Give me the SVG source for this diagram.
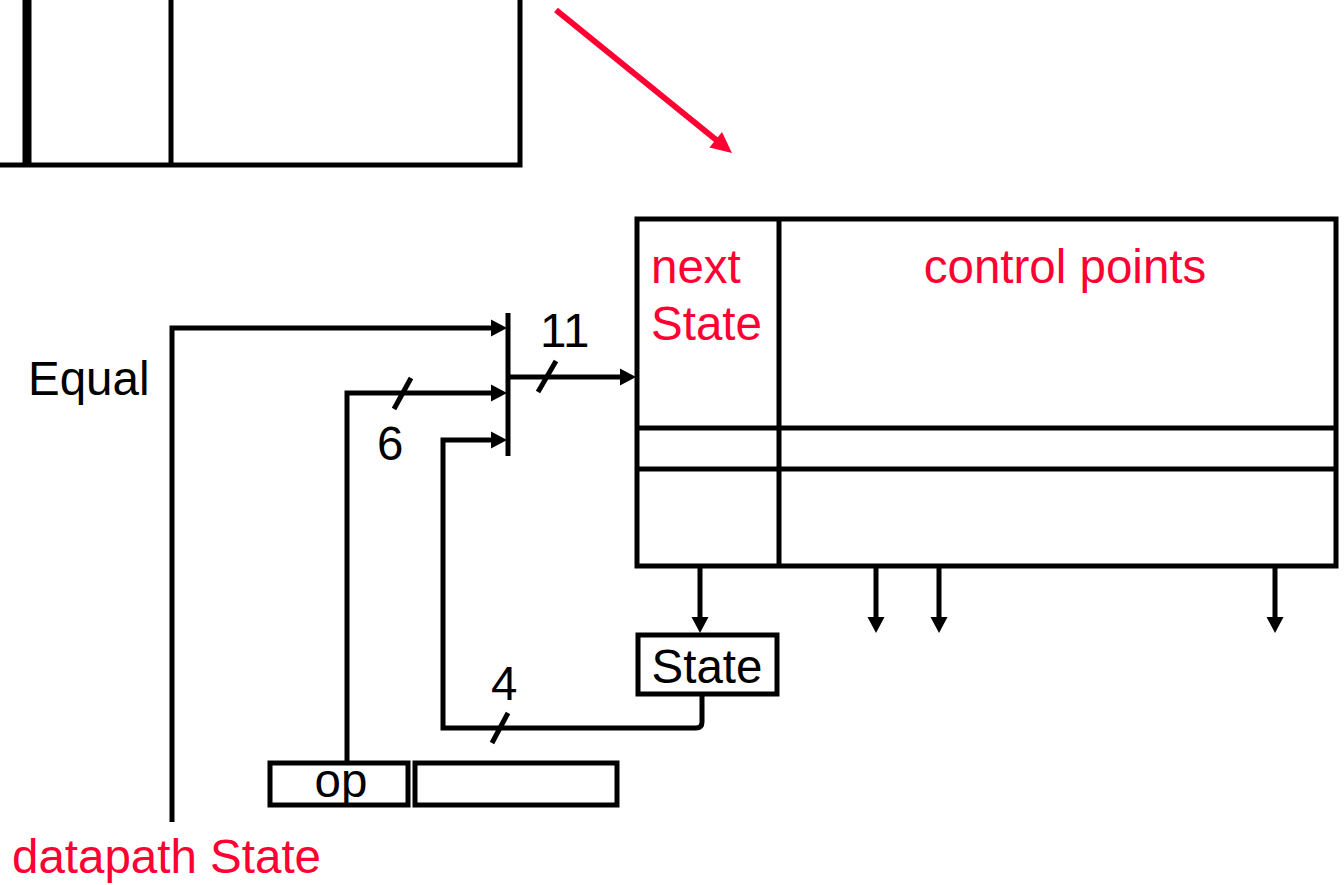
<svg xmlns="http://www.w3.org/2000/svg" xmlns:xlink="http://www.w3.org/1999/xlink" width="1344" height="885" viewBox="0 0 1344 885">
<style>
.ln{fill:none;stroke:#000;stroke-width:5;stroke-linejoin:miter}
.bx{fill:#fff;stroke:#000;stroke-width:5}
.t{font-family:"Liberation Sans",Arial,sans-serif;font-size:47.5px;fill:#000}
.r{fill:#ff0033}
.hd{fill:#000}
</style>
<defs>
<path id="ahd" d="M0,0 L-16,-8.5 L-16,8.5 Z"/>
<path id="ahdr" d="M0,0 L-21,-10 L-21,10 Z"/>
</defs>
<g id="top-register">
<path class="ln" d="M0,165 H520 V0"/>
<line x1="27" y1="0" x2="27" y2="167" stroke="#000" stroke-width="9"/>
<line class="ln" x1="171" y1="0" x2="171" y2="167"/>
</g>
<g id="red-arrow">
<line x1="556" y1="10" x2="720" y2="143" stroke="#ff0033" stroke-width="6"/>
<use xlink:href="#ahdr" href="#ahdr" fill="#ff0033" transform="translate(732,153) rotate(39.1)"/>
</g>
<g id="rom">
<rect class="bx" x="637" y="219" width="699" height="347"/>
<line class="ln" x1="779" y1="219" x2="779" y2="566"/>
<line class="ln" x1="637" y1="428" x2="1336" y2="428"/>
<line class="ln" x1="637" y1="469" x2="1336" y2="469"/>
<text class="t r" x="651" y="283">next</text>
<text class="t r" x="651" y="340">State</text>
<text class="t r" x="1065" y="283" text-anchor="middle">control points</text>
</g>
<g id="state-reg">
<rect class="bx" x="638" y="635" width="139" height="59"/>
<text class="t" x="707" y="683" text-anchor="middle">State</text>
</g>
<g id="op-field">
<rect class="bx" x="270" y="763" width="138" height="42"/>
<text class="t" x="341" y="797" text-anchor="middle">op</text>
</g>
<g id="other-field">
<rect class="bx" x="415" y="763" width="202" height="42"/>
</g>
<g id="bus">
<line class="ln" x1="508" y1="313" x2="508" y2="456"/>
</g>
<g id="labels">
<text class="t" x="28" y="395">Equal</text>
<text class="t r" x="12" y="873">datapath State</text>
<text class="t" x="540" y="347" font-size="45">11</text>
<text class="t" x="377" y="460" font-size="45">6</text>
<text class="t" x="491" y="700" font-size="45">4</text>
</g>
<g id="connectors">
<path class="ln" d="M172,822 V328 H496"/>
<path class="ln" d="M347,763 V393 H496"/>
<path class="ln" d="M702,694 V722 Q702,728 696,728 H443 V440 H496"/>
<line class="ln" x1="508" y1="377" x2="624" y2="377"/>
<line class="ln" x1="700" y1="566" x2="700" y2="620"/>
<line class="ln" x1="876" y1="566" x2="876" y2="620"/>
<line class="ln" x1="939" y1="566" x2="939" y2="620"/>
<line class="ln" x1="1275" y1="566" x2="1275" y2="620"/>
<use class="hd" xlink:href="#ahd" href="#ahd" transform="translate(507,328)"/>
<use class="hd" xlink:href="#ahd" href="#ahd" transform="translate(507,393)"/>
<use class="hd" xlink:href="#ahd" href="#ahd" transform="translate(507,440)"/>
<use class="hd" xlink:href="#ahd" href="#ahd" transform="translate(636,377)"/>
<use class="hd" xlink:href="#ahd" href="#ahd" transform="translate(700,633) rotate(90)"/>
<use class="hd" xlink:href="#ahd" href="#ahd" transform="translate(876,633) rotate(90)"/>
<use class="hd" xlink:href="#ahd" href="#ahd" transform="translate(939,633) rotate(90)"/>
<use class="hd" xlink:href="#ahd" href="#ahd" transform="translate(1275,633) rotate(90)"/>
<line class="ln" x1="538" y1="392" x2="556" y2="361"/>
<line class="ln" x1="394" y1="409" x2="411" y2="378"/>
<line class="ln" x1="492" y1="743" x2="508" y2="713"/>
</g>
</svg>
